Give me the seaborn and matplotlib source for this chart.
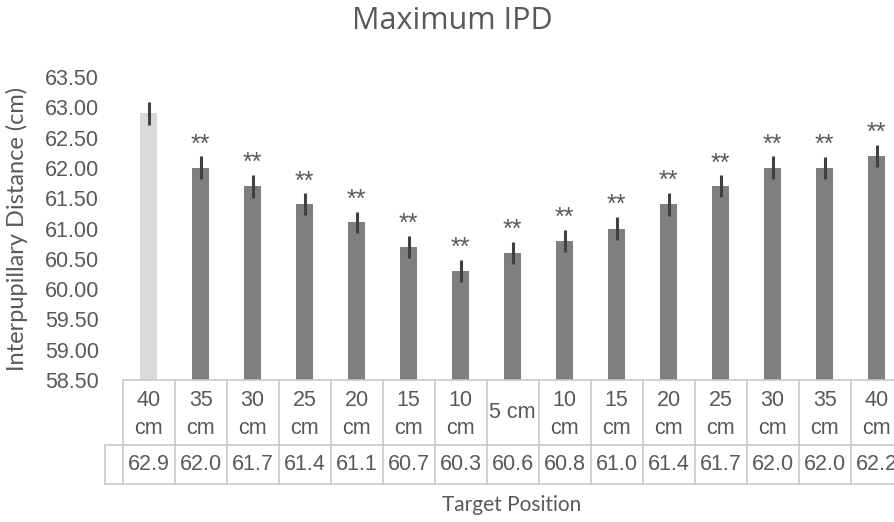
import numpy as np
import pandas as pd
import matplotlib
matplotlib.use("Agg")
import matplotlib.pyplot as plt
import matplotlib.transforms as mtransforms
from matplotlib import font_manager
import seaborn as sns

# ---- data -------------------------------------------------------------
positions = ["40 cm", "35 cm", "30 cm", "25 cm", "20 cm", "15 cm", "10 cm", "5 cm",
             "10 cm", "15 cm", "20 cm", "25 cm", "30 cm", "35 cm", "40 cm"]
max_ipd = [62.9, 62.0, 61.7, 61.4, 61.1, 60.7, 60.3, 60.6,
           60.8, 61.0, 61.4, 61.7, 62.0, 62.0, 62.2]
ipd_error = [0.19, 0.19, 0.19, 0.18, 0.18, 0.18, 0.18, 0.18,
             0.18, 0.19, 0.19, 0.18, 0.19, 0.18, 0.18]
significance = ["", "**", "**", "**", "**", "**", "**", "**",
                "**", "**", "**", "**", "**", "**", "**"]
y_ticks = [58.5, 59.0, 59.5, 60.0, 60.5, 61.0, 61.5, 62.0, 62.5, 63.0, 63.5]

# ---- styling ----------------------------------------------------------
sns.set_theme(style="white")
available = {f.name for f in font_manager.fontManager.ttflist}


def pick(*names):
    for n in names:
        if n in available:
            return n
    return "DejaVu Sans"


ARIAL = pick("Liberation Sans", "Arial", "DejaVu Sans")
TITLE_FONT = pick("Open Sans", "Noto Sans", "DejaVu Sans")
LABEL_FONT = pick("Lato", "Open Sans", "DejaVu Sans")
plt.rcParams["font.family"] = [ARIAL, "DejaVu Sans"]

TEXT = "#595959"
GRID = "#C9C9C9"
bar_colors = ["#D9D9D9"] + ["#7F7F7F"] * (len(max_ipd) - 1)

W, H = 894, 522
fig = plt.figure(figsize=(W / 100, H / 100), dpi=100)
fig.patch.set_facecolor("white")

n = len(max_ipd)
col_w = 52.0
left_px, top_px, bottom_px = 122.7, 77, 380
ax = fig.add_axes([left_px / W, 1 - bottom_px / H, n * col_w / W, (bottom_px - top_px) / H])

df = pd.DataFrame({"slot": np.arange(n), "ipd": max_ipd, "err": ipd_error})
sns.barplot(data=df, x="slot", y="ipd", hue="slot", palette=bar_colors, legend=False,
            width=0.32, linewidth=0, saturation=1, ax=ax)
ax.errorbar(df["slot"], df["ipd"], yerr=df["err"], fmt="none",
            ecolor="#404040", elinewidth=2.2, capsize=0, zorder=3)

for i, (v, e, s) in enumerate(zip(max_ipd, ipd_error, significance)):
    if s:
        ax.annotate(s, (i, v + e), xytext=(0, 8.5), textcoords="offset points",
                    ha="center", va="center", fontsize=18, color=TEXT, family=ARIAL)

ax.set_xlim(-0.5, n - 0.5)
ax.set_ylim(y_ticks[0], y_ticks[-1])
ax.set_yticks(y_ticks)
ax.set_yticklabels([f"{t:.2f}" for t in y_ticks])
ax.tick_params(axis="y", length=0, pad=17, labelsize=15.5, labelcolor=TEXT)
ax.set_xticks([])
ax.set_xlabel("")
ax.set_ylabel("Interpupillary Distance (cm)", fontsize=17, color=TEXT,
              family=LABEL_FONT, labelpad=12)
for side in ["top", "right", "left"]:
    ax.spines[side].set_visible(False)
ax.spines["bottom"].set_color(GRID)
ax.spines["bottom"].set_linewidth(1.2)
ax.grid(False)

# ---- data table beneath the axis --------------------------------------
tr = mtransforms.blended_transform_factory(ax.transData, fig.transFigure)


def fy(px):
    return 1 - px / H


row1_top, row1_bot, row2_bot = 381, 445, 484
key_left = -0.5 - (left_px - 105) / col_w
line_kw = dict(color=GRID, lw=1.2, transform=tr, clip_on=False)
for k in range(n + 1):
    xb = k - 0.5
    ax.plot([xb, xb], [fy(row1_top), fy(row2_bot)], **line_kw)
ax.plot([key_left, key_left], [fy(row1_bot), fy(row2_bot)], **line_kw)
ax.plot([key_left, n - 0.5], [fy(row1_bot), fy(row1_bot)], **line_kw)
ax.plot([key_left, n - 0.5], [fy(row2_bot), fy(row2_bot)], **line_kw)

for i, (lab, v) in enumerate(zip(positions, max_ipd)):
    parts = lab.split(" ")
    if len(parts[0]) > 1:
        ax.text(i, fy(400), parts[0], transform=tr, ha="center", va="center",
                fontsize=15.5, color=TEXT, clip_on=False)
        ax.text(i, fy(429), parts[1], transform=tr, ha="center", va="center",
                fontsize=15.5, color=TEXT, clip_on=False)
    else:
        ax.text(i, fy(413), lab, transform=tr, ha="center", va="center",
                fontsize=15.5, color=TEXT, clip_on=False)
    ax.text(i, fy(465), f"{v:.1f}", transform=tr, ha="center", va="center",
            fontsize=15.5, color=TEXT, clip_on=False)

fig.text(512 / W, fy(505), "Target Position", ha="center", va="center",
         fontsize=15, color=TEXT, family=LABEL_FONT)
fig.text(452 / W, fy(21), "Maximum IPD", ha="center", va="center",
         fontsize=22, color=TEXT, family=TITLE_FONT)

fig.savefig("out.png", dpi=100, facecolor="white")
